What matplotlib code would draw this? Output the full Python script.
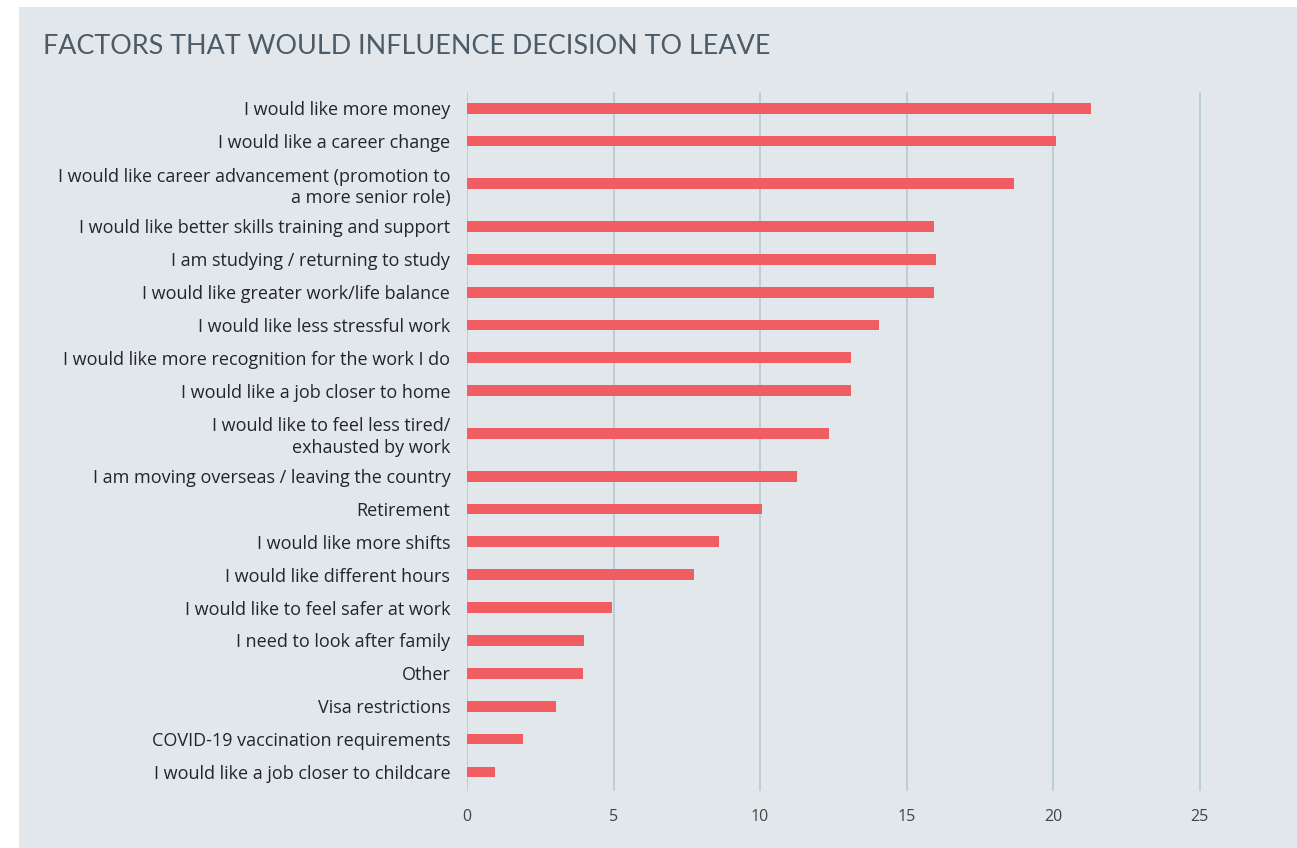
import matplotlib.pyplot as plt
from matplotlib.patches import Rectangle

factors = [
    "I would like more money",
    "I would like a career change",
    "I would like career advancement (promotion to\na more senior role)",
    "I would like better skills training and support",
    "I am studying / returning to study",
    "I would like greater work/life balance",
    "I would like less stressful work",
    "I would like more recognition for the work I do",
    "I would like a job closer to home",
    "I would like to feel less tired/\nexhausted by work",
    "I am moving overseas / leaving the country",
    "Retirement",
    "I would like more shifts",
    "I would like different hours",
    "I would like to feel safer at work",
    "I need to look after family",
    "Other",
    "Visa restrictions",
    "COVID-19 vaccination requirements",
    "I would like a job closer to childcare",
]
values = [21.3, 20.1, 18.65, 15.95, 16.0, 15.95, 14.05, 13.1, 13.1, 12.35,
          11.25, 10.05, 8.6, 7.75, 4.95, 4.0, 3.95, 3.05, 1.9, 0.95]
xticks = [0, 5, 10, 15, 20, 25]

BG = "#E2E7EB"
BAR = "#F05D62"
GRID = "#BACDD4"
TEXT = "#232628"

# rows with wrapped labels get a bit more room
positions = [0.0]
for a, b in zip(factors[:-1], factors[1:]):
    extra = a.count("\n") + b.count("\n")
    positions.append(positions[-1] + 1 + 0.3 * extra)

plt.rcParams["font.family"] = ["Open Sans", "DejaVu Sans"]

fig = plt.figure(figsize=(12.97, 8.48), dpi=100, facecolor="white")
fig.patches.append(Rectangle((19 / 1297, 0), 1, 1 - 7 / 848,
                             transform=fig.transFigure, facecolor=BG,
                             edgecolor="none", zorder=-5))

fig.text(43 / 1297, 1 - 47 / 848, "FACTORS THAT WOULD INFLUENCE DECISION TO LEAVE",
         fontsize=19.4, color="#4B5B67", va="center", ha="left",
         family=["Lato", "DejaVu Sans"])

ax = fig.add_axes([467 / 1297, 1 - 791 / 848, (1270 - 467) / 1297, (791 - 92) / 848])
ax.set_zorder(2)
ax.set_facecolor("none")
ax.barh(positions, values, height=0.33, color=BAR, zorder=3)
ax.set_yticks(positions)
ax.set_yticklabels(factors, fontsize=13, color=TEXT, linespacing=1.25,
                   fontweight="medium")
ax.set_ylim(positions[-1] + 0.58, -0.49)
ax.set_xlim(0, 27.4)
ax.set_xticks(xticks)
ax.set_xticklabels([str(t) for t in xticks], fontsize=11.5, color="#444444")
ax.tick_params(axis="both", length=0)
ax.tick_params(axis="y", pad=12)
ax.tick_params(axis="x", pad=13)
ax.grid(axis="x", color=GRID, linewidth=1.3, zorder=1)
ax.set_axisbelow(True)
for s in ax.spines.values():
    s.set_visible(False)

fig.savefig("out.png", dpi=100, facecolor="white")
